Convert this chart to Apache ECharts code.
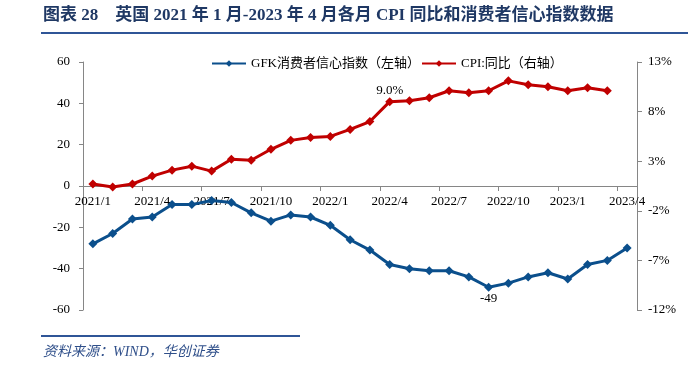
<!DOCTYPE html>
<html>
<head>
<meta charset="utf-8">
<script src="https://cdn.jsdelivr.net/npm/echarts@6/dist/echarts.min.js"></script>
<style>
html,body{margin:0;padding:0;background:#fff;}
#c{width:697px;height:368px;}
</style>
</head>
<body>
<div id="c"></div>
<script>
var categories = ["2021/1","2021/2","2021/3","2021/4","2021/5","2021/6","2021/7","2021/8","2021/9","2021/10","2021/11","2021/12",
  "2022/1","2022/2","2022/3","2022/4","2022/5","2022/6","2022/7","2022/8","2022/9","2022/10","2022/11","2022/12",
  "2023/1","2023/2","2023/3","2023/4"];
var gfk = [-28,-23,-16,-15,-9,-9,-7,-8,-13,-17,-14,-15,-19,-26,-31,-38,-40,-41,-41,-44,-49,-47,-44,-42,-45,-38,-36,-30];
var cpi = [0.7,0.4,0.7,1.5,2.1,2.5,2.0,3.2,3.1,4.2,5.1,5.4,5.5,6.2,7.0,9.0,9.1,9.4,10.1,9.9,10.1,11.1,10.7,10.5,10.1,10.4,10.1];
var leftTicks = {min:-60, max:60, interval:20};
var rightTicks = {min:-12, max:13, interval:5};
var gfkLabelIndex = 20;
var cpiLabelIndex = 15;

var serif = '"Liberation Serif","Noto Sans CJK SC",serif';
var chart = echarts.init(document.getElementById('c'), null, {renderer:'canvas'});
var axisGrey = '#868686';
var gridTop = 62, gridBottom = 58, plotH = 368 - gridTop - gridBottom;
// place category axis on the left axis' zero line
var zeroOffset = -plotH * (0 - leftTicks.min) / (leftTicks.max - leftTicks.min);
chart.setOption({
  animation:false,
  backgroundColor:'#fff',
  graphic:[
    {type:'text', left:43, top:7, style:{text:'图表 28    英国 2021 年 1 月-2023 年 4 月各月 CPI 同比和消费者信心指数数据', font:'bold 17px ' + serif, fill:'#1F3864'}},
    {type:'rect', shape:{x:41, y:32, width:647, height:2}, style:{fill:'#2F5597'}},
    {type:'rect', shape:{x:41, y:335, width:259, height:2}, style:{fill:'#2F5597'}},
    {type:'text', left:43, top:345, style:{text:'资料来源：WIND，华创证券', font:'italic 14px ' + serif, fill:'#2F4F8A'}}
  ],
  legend:{
    top:57, left:211, padding:0,
    itemWidth:34, itemHeight:8, itemGap:1,
    textStyle:{fontFamily:serif, fontSize:13, color:'#000'},
    data:['GFK消费者信心指数（左轴）','CPI:同比（右轴）']
  },
  grid:{left:83, right:60, top:gridTop, bottom:gridBottom, containLabel:false},
  xAxis:{
    type:'category', data:categories, boundaryGap:true, position:'bottom', offset:zeroOffset,
    axisLine:{onZero:false, lineStyle:{color:axisGrey, width:1}},
    axisTick:{show:true, interval:2, length:5, lineStyle:{color:axisGrey}},
    axisLabel:{interval:2, margin:9, color:'#000', fontFamily:serif, fontSize:13}
  },
  yAxis:[
    {type:'value', min:leftTicks.min, max:leftTicks.max, interval:leftTicks.interval, position:'left',
     splitLine:{show:false},
     axisLine:{show:true, onZero:false, lineStyle:{color:axisGrey}},
     axisTick:{show:true, length:4, lineStyle:{color:axisGrey}},
     axisLabel:{color:'#000', fontFamily:serif, fontSize:13, margin:13}},
    {type:'value', min:rightTicks.min, max:rightTicks.max, interval:rightTicks.interval, position:'right',
     splitLine:{show:false},
     axisLine:{show:true, onZero:false, lineStyle:{color:axisGrey}},
     axisTick:{show:true, length:5, lineStyle:{color:axisGrey}},
     axisLabel:{color:'#000', fontFamily:serif, fontSize:13, margin:11, formatter:function(v){return v+'%';}}}
  ],
  series:[
    {name:'GFK消费者信心指数（左轴）', type:'line', yAxisIndex:0, data:gfk,
     color:'#0B4F8C', lineStyle:{width:3, color:'#0B4F8C'},
     symbol:'diamond', symbolSize:9, itemStyle:{color:'#0B4F8C'},
     label:{show:true, position:'bottom', distance:0, color:'#000', fontFamily:serif, fontSize:13,
       formatter:function(p){return p.dataIndex===gfkLabelIndex ? String(p.value) : '';}}},
    {name:'CPI:同比（右轴）', type:'line', yAxisIndex:1, data:cpi,
     color:'#C00000', lineStyle:{width:3, color:'#C00000'},
     symbol:'diamond', symbolSize:9, itemStyle:{color:'#C00000'},
     label:{show:true, position:'top', distance:0, color:'#000', fontFamily:serif, fontSize:13,
       formatter:function(p){return p.dataIndex===cpiLabelIndex ? p.value.toFixed(1)+'%' : '';}}}
  ]
});
</script>
</body>
</html>
